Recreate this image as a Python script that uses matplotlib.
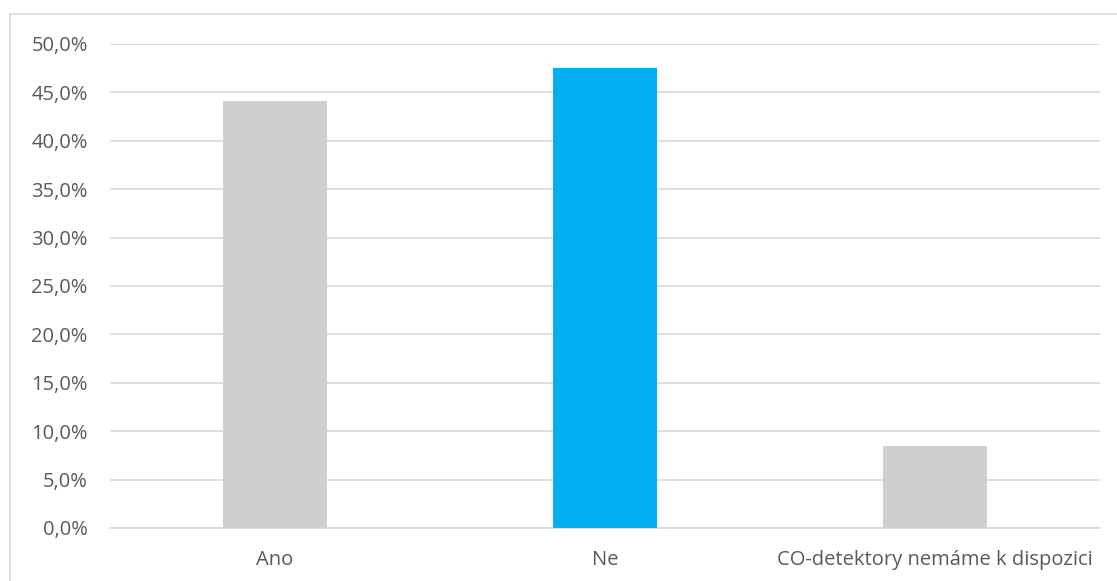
import numpy as np
import matplotlib.pyplot as plt
from matplotlib.ticker import FuncFormatter, MultipleLocator
from matplotlib.patches import Rectangle

categories = ["Ano", "Ne", "CO-detektory nemáme k dispozici"]
values = [44.1, 47.5, 8.5]
bar_colors = ["#D0CECE", "#00B0F0", "#D0CECE"]

W, H = 1117, 581
fig = plt.figure(figsize=(W / 100, H / 100), dpi=100)
plt.rcParams['font.family'] = ['Open Sans', 'DejaVu Sans']

# outer chart border (cut off at right/bottom like the screenshot)
fig.patches.append(Rectangle((10 / W, -0.1), 1.2, 1 - 14 / H + 0.1,
                             transform=fig.transFigure, fill=False,
                             edgecolor="#D9D9D9", lw=1.2))

ax = fig.add_axes([110 / W, 1 - 528 / H, 990 / W, 484 / H])
x = np.arange(len(categories))
ax.bar(x, values, width=0.315, color=bar_colors, zorder=3)

ax.set_xlim(-0.5, len(categories) - 0.5)
ax.set_ylim(0, 50)
ax.yaxis.set_major_locator(MultipleLocator(5))
ax.yaxis.set_major_formatter(FuncFormatter(lambda v, p: "{:.1f}%".format(v).replace(".", ",")))
ax.grid(axis="y", color="#D9D9D9", lw=1.2, zorder=0)
ax.set_xticks(x)
ax.set_xticklabels(categories)
ax.tick_params(axis="both", length=0, labelsize=14.5, colors="#595959")
ax.tick_params(axis="y", pad=16)
ax.tick_params(axis="x", pad=16)
for s in ["top", "right", "left"]:
    ax.spines[s].set_visible(False)
ax.spines["bottom"].set_color("#D9D9D9")
ax.spines["bottom"].set_linewidth(1.2)

fig.savefig("out.png", dpi=100)
